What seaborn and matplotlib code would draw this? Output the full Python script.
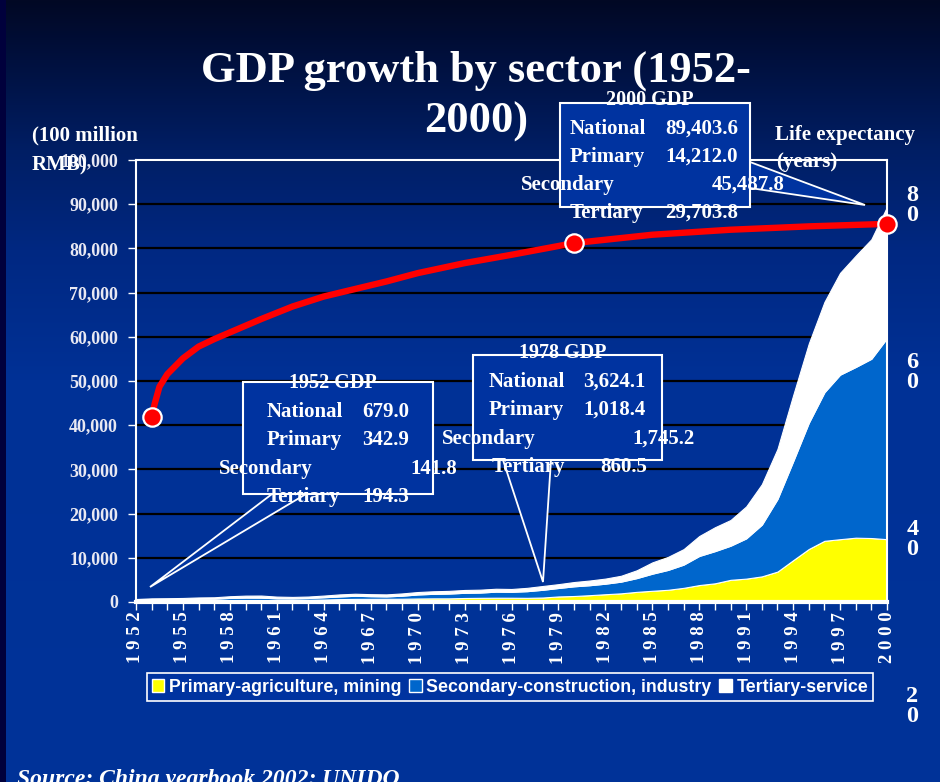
import numpy as np
import matplotlib
matplotlib.use("Agg")
import matplotlib.pyplot as plt
import seaborn as sns
from matplotlib.patches import Rectangle, Polygon, Patch

# ---------------- data ----------------
years = list(range(1952, 2001))
primary = [342.9, 378.0, 392.0, 421.0, 443.9, 430.0, 445.9, 383.8, 340.7, 441.1,
           453.1, 497.5, 559.0, 651.1, 702.2, 714.2, 726.3, 736.2, 793.3, 826.3,
           827.4, 907.5, 945.2, 971.1, 967.0, 942.1, 1018.4, 1258.9, 1359.4, 1545.6,
           1761.6, 1960.8, 2295.5, 2541.6, 2763.9, 3204.3, 3831.0, 4228.0, 5017.0, 5288.6,
           5800.0, 6882.1, 9457.2, 11993.0, 13844.2, 14211.2, 14552.4, 14472.0, 14212.0]
secondary = [141.8, 192.5, 211.7, 222.2, 280.7, 317.0, 483.5, 615.5, 648.2, 388.9,
             359.3, 407.6, 513.5, 602.2, 709.5, 602.8, 537.3, 689.1, 912.2, 1022.8,
             1084.2, 1173.0, 1192.0, 1370.5, 1337.2, 1509.1, 1745.2, 1913.5, 2192.0, 2255.5,
             2383.0, 2646.2, 3105.7, 3866.6, 4492.7, 5251.6, 6587.2, 7278.0, 7717.4, 9102.2,
             11699.5, 16428.5, 22372.2, 28537.9, 33612.9, 37222.7, 38619.3, 40557.8, 45487.8]
tertiary = [194.3, 253.7, 255.7, 267.6, 303.4, 321.0, 377.6, 439.8, 468.1, 390.1,
            336.9, 328.2, 381.5, 462.8, 456.3, 456.9, 459.5, 512.6, 547.2, 577.3,
            606.5, 640.4, 652.7, 655.7, 639.5, 750.7, 860.5, 865.8, 966.4, 1061.3,
            1150.1, 1327.5, 1769.8, 2556.2, 2945.6, 3506.6, 4510.1, 5403.2, 5813.5, 7227.0,
            9138.6, 11323.8, 14930.0, 17947.2, 20427.5, 23028.7, 25173.5, 27037.7, 29703.8]
series_names = ["Primary-agriculture, mining", "Secondary-construction, industry", "Tertiary-service"]

le_years = [1953.0, 1953.2, 1953.5, 1954.0, 1955.0, 1956.0, 1957.0, 1958.0, 1959.0, 1960.0,
            1962.0, 1964.0, 1966.0, 1968.0, 1970.0, 1973.0, 1976.0, 1980.0, 1985.0, 1990.0,
            1995.0, 2000.0]
le_values = [54.4, 56.0, 58.0, 59.5, 61.4, 62.8, 63.7, 64.5, 65.3, 66.1,
             67.6, 68.8, 69.7, 70.6, 71.6, 72.8, 73.8, 75.2, 76.2, 76.8,
             77.2, 77.5]
le_marker_years = [1953.0, 1980.0, 2000.0]

y_ticks = list(range(0, 100001, 10000))
x_label_years = list(range(1952, 2001, 3))
le_ticks = [20, 40, 60, 80]

callouts = [
    {"title": "1952 GDP", "national": "679.0", "primary": "342.9", "secondary": "141.8", "tertiary": "194.3"},
    {"title": "1978 GDP", "national": "3,624.1", "primary": "1,018.4", "secondary": "1,745.2", "tertiary": "860.5"},
    {"title": "2000 GDP", "national": "89,403.6", "primary": "14,212.0", "secondary": "45,487.8", "tertiary": "29,703.8"},
]

# ---------------- style ----------------
sns.set_theme(context="notebook", style="white")
plt.rcParams["font.family"] = ["Liberation Serif", "DejaVu Serif"]
plt.rcParams["font.weight"] = "bold"

W, H = 940, 782
fig = plt.figure(figsize=(9.4, 7.82), dpi=100)

# background gradient
bg = fig.add_axes([0, 0, 1, 1], zorder=0)
stops_y = [0, 60, 150, 250, 380, 782]
stops_c = np.array([(2, 8, 36), (0, 16, 62), (0, 30, 100), (0, 40, 130), (0, 49, 150), (0, 51, 153)]) / 255.0
rows = np.arange(H)
grad = np.stack([np.interp(rows, stops_y, stops_c[:, i]) for i in range(3)], axis=-1)[:, None, :]
bg.imshow(grad, aspect="auto", extent=[0, W, H, 0])
bg.set_xlim(0, W); bg.set_ylim(H, 0)
bg.axis("off")

def fx(px):
    return px / W

def fy(py):
    return 1 - py / H

# main axes
L, R, T, B = 136, 887, 160, 602
ax = fig.add_axes([fx(L), fy(B), fx(R - L), (B - T) / H], zorder=1)
ax.patch.set_alpha(0)
ax.stackplot(years, primary, secondary, tertiary,
             colors=["#FFFF00", "#0066CC", "#FFFFFF"],
             edgecolor="white", linewidth=0.8, zorder=2)
ax.set_xlim(1952, 2000)
ax.set_ylim(0, 100000)
ax.set_yticks(y_ticks)
ax.set_yticklabels([f"{v:,}" for v in y_ticks])
ax.set_xticks(x_label_years)
ax.set_xticklabels([" ".join(str(y)) for y in x_label_years], rotation=90)
ax.set_xticks(years, minor=True)
ax.set_axisbelow(True)
ax.yaxis.grid(True, color="black", linewidth=1.6)
ax.xaxis.grid(False)
for s in ["left", "right", "top"]:
    ax.spines[s].set_color("white"); ax.spines[s].set_linewidth(1.5)
ax.spines["bottom"].set_color("white"); ax.spines["bottom"].set_linewidth(3)
ax.tick_params(axis="y", direction="out", length=6, width=1, color="white",
               labelcolor="#E8E8F2", labelsize=13, pad=7, left=True)
ax.tick_params(axis="x", which="both", direction="out", length=6, width=1, color="white",
               labelcolor="white", labelsize=13.5, pad=1, bottom=True)
for lbl in ax.get_yticklabels() + ax.get_xticklabels():
    lbl.set_fontweight("bold")
ax.set_xlabel(""); ax.set_ylabel("")

# life expectancy axis
T2, B2 = 160, 740
ax2 = fig.add_axes([fx(L), fy(B2), fx(R - L), (B2 - T2) / H], zorder=2)
ax2.patch.set_alpha(0)
ax2.set_xlim(1952, 2000)
ax2.set_ylim(15.69, 85.15)
sns.lineplot(x=le_years, y=le_values, ax=ax2, color="#FF0000", linewidth=4.6,
             legend=False, sort=False, zorder=4)
mk_vals = [le_values[le_years.index(y)] for y in le_marker_years]
sns.scatterplot(x=le_marker_years, y=mk_vals, ax=ax2, color="#FF0000", s=175,
                edgecolor="white", linewidth=1.6, zorder=5, legend=False, clip_on=False)
for s in ax2.spines.values():
    s.set_visible(False)
ax2.xaxis.set_visible(False)
ax2.yaxis.tick_right()
ax2.set_yticks(le_ticks)
ax2.set_yticklabels(["\n".join(str(v)) for v in le_ticks])
ax2.tick_params(axis="y", length=0, labelcolor="white", labelsize=17.5, pad=14, right=True, left=False)
for lbl in ax2.get_yticklabels():
    lbl.set_fontweight("bold"); lbl.set_linespacing(0.95)
ax2.set_xlabel(""); ax2.set_ylabel("")

# overlay for annotations (pixel coordinates)
ov = fig.add_axes([0, 0, 1, 1], zorder=3)
ov.set_xlim(0, W); ov.set_ylim(H, 0)
ov.axis("off")
ov.patch.set_alpha(0)
ov.add_patch(Rectangle((0, 0), 6, H, facecolor="#00003C", edgecolor="none"))

TXT = dict(color="white", fontweight="bold", family=["Liberation Serif"])
ov.text(476, 82, "GDP growth by sector (1952-", ha="center", va="baseline", fontsize=32, **TXT)
ov.text(476, 133, "2000)", ha="center", va="baseline", fontsize=32, **TXT)
ov.text(32, 140, "(100 million", ha="left", va="baseline", fontsize=15, **TXT)
ov.text(32, 170, "RMB)", ha="left", va="baseline", fontsize=15, **TXT)
ov.text(775, 140, "Life expectancy", ha="left", va="baseline", fontsize=15, **TXT)
ov.text(776, 167, "(years)", ha="left", va="baseline", fontsize=15, **TXT)
ov.text(17, 785, "Source: China yearbook 2002; UNIDO", ha="left", va="baseline",
        fontsize=17, color="white", style="italic", family=["Liberation Serif"])

BOXC = "#0033A0"
def draw_callout(d, box, wedge, pos):
    x0, y0, x1, y1 = box
    ov.add_patch(Polygon(wedge, closed=True, facecolor=BOXC, edgecolor="white", linewidth=1.3))
    ov.add_patch(Rectangle((x0, y0), x1 - x0, y1 - y0, facecolor=BOXC, edgecolor="white", linewidth=1.5))
    ov.text(pos["title"][0], pos["title"][1], d["title"], ha="center", va="center", fontsize=14.5, **TXT)
    for key, lab in [("national", "National"), ("primary", "Primary"),
                     ("secondary", "Secondary"), ("tertiary", "Tertiary")]:
        (lx, vx, yy) = pos[key]
        ov.text(lx, yy, lab, ha="left", va="center", fontsize=15, **TXT)
        ov.text(vx, yy, d[key], ha="left", va="center", fontsize=15, **TXT)

draw_callout(callouts[0], (243, 382, 433, 494),
             [(272, 494), (150, 587), (306, 494)],
             {"title": (333, 383), "national": (267, 362, 412), "primary": (267, 362, 440),
              "secondary": (219, 410, 469), "tertiary": (267, 362, 497)})
draw_callout(callouts[1], (473, 355, 662, 460),
             [(503, 460), (543, 582), (551, 460)],
             {"title": (563, 353), "national": (489, 583, 382), "primary": (489, 583, 410),
              "secondary": (442, 632, 439), "tertiary": (492, 600, 467)})
draw_callout(callouts[2], (560, 103, 750, 207),
             [(750, 162), (865, 205), (750, 188)],
             {"title": (650, 100), "national": (570, 665, 129), "primary": (570, 665, 157),
              "secondary": (521, 712, 185), "tertiary": (570, 665, 213)})

# legend
handles = [Patch(facecolor="#FFFF00", edgecolor="white", linewidth=1),
           Patch(facecolor="#0066CC", edgecolor="white", linewidth=1),
           Patch(facecolor="#FFFFFF", edgecolor="white", linewidth=1)]
leg = fig.legend(handles, series_names, loc="center", ncol=3,
                 bbox_to_anchor=(fx(510), fy(687)), bbox_transform=fig.transFigure,
                 frameon=True, fancybox=False, framealpha=1, facecolor=BOXC, edgecolor="white",
                 prop={"family": "Liberation Sans", "weight": "bold", "size": 12.8},
                 handlelength=0.7, handleheight=0.7, handletextpad=0.25, columnspacing=0.45,
                 borderpad=0.3, borderaxespad=0)
leg.get_frame().set_linewidth(1.2)
for t in leg.get_texts():
    t.set_color("white")

fig.savefig("out.png", dpi=100)
